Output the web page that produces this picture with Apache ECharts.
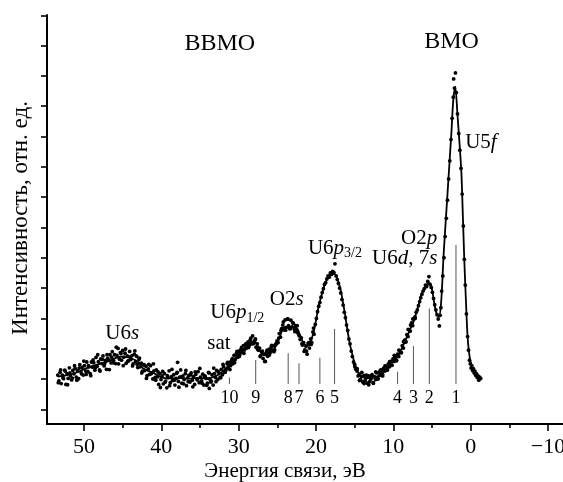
<!DOCTYPE html>
<html>
<head>
<meta charset="utf-8">
<script src="https://cdn.jsdelivr.net/npm/echarts@6/dist/echarts.min.js"></script>
<style>
  html, body { margin: 0; padding: 0; background: #fff; }
  #chart { width: 563px; height: 482px; }
</style>
</head>
<body>
<div id="chart"></div>
<script>
// Measured XPS valence-band spectrum, first pass: [binding energy, eV ; intensity, arb. units]
const spectrum = [
  [53.40,0.13],[53.25,-0.06],[53.10,0.22],[52.95,-0.15],[52.80,0.13],[52.65,0.01],[52.50,0.29],[52.35,-0.18],
  [52.20,0.18],[52.05,0.02],[51.90,0.37],[51.75,0.10],[51.60,-0.03],[51.45,0.28],[51.30,0.17],[51.15,0.35],
  [51.00,0.06],[50.85,0.27],[50.70,0.01],[50.55,0.47],[50.40,0.23],[50.25,0.38],[50.10,0.13],[49.95,0.44],
  [49.80,0.26],[49.65,0.56],[49.50,0.25],[49.35,0.40],[49.20,0.18],[49.05,0.56],[48.90,0.39],[48.75,0.54],
  [48.60,0.29],[48.45,0.71],[48.30,0.42],[48.15,0.57],[48.00,0.30],[47.85,0.66],[47.70,0.51],[47.55,0.76],
  [47.40,0.43],[47.25,0.61],[47.10,0.32],[46.95,0.68],[46.80,0.62],[46.65,0.80],[46.50,0.53],[46.35,0.90],
  [46.20,0.62],[46.05,0.80],[45.90,0.51],[45.75,0.78],[45.60,1.01],[45.45,0.66],[45.30,0.87],[45.15,0.62],
  [45.00,0.94],[44.85,0.72],[44.70,0.85],[44.55,0.52],[44.40,0.76],[44.25,0.60],[44.10,0.91],[43.95,0.64],
  [43.80,0.77],[43.65,0.50],[43.50,0.82],[43.35,0.57],[43.20,0.75],[43.05,0.38],[42.90,0.65],[42.75,0.40],
  [42.60,0.52],[42.45,0.26],[42.30,0.47],[42.15,0.28],[42.00,0.42],[41.85,0.11],[41.70,0.33],[41.55,0.15],
  [41.40,0.44],[41.25,0.20],[41.10,0.00],[40.95,0.27],[40.80,0.05],[40.65,0.30],[40.50,0.07],[40.35,-0.18],
  [40.20,0.18],[40.05,-0.02],[39.90,0.10],[39.75,-0.16],[39.60,0.18],[39.45,-0.07],[39.30,-0.29],[39.15,0.05],
  [39.00,0.27],[38.85,-0.12],[38.70,0.08],[38.55,-0.05],[38.40,0.14],[38.25,-0.20],[38.10,0.02],[37.95,0.22],
  [37.90,0.55],[37.80,-0.08],[37.65,0.06],[37.50,0.30],[37.35,-0.14],[37.20,0.10],[37.05,-0.02],[36.90,0.18],
  [36.75,-0.22],[36.60,0.04],[36.45,0.12],[36.30,-0.10],[36.15,0.20],[36.00,-0.04],[35.85,0.08],[35.70,-0.18],
  [35.55,0.15],[35.40,0.00],[35.25,0.24],[35.10,-0.12],[34.95,0.06],[34.80,-0.06],[34.65,0.16],[34.50,-0.20],
  [34.35,0.10],[34.20,0.02],[34.05,-0.14],[33.90,0.22],[33.80,-0.31],[33.75,0.00],[33.60,-0.10],[33.45,0.14],
  [33.30,-0.20],[33.15,0.18],[33.00,0.05],[32.85,0.28],[32.70,-0.02],[32.55,0.20],[32.40,0.06],[32.25,0.32],
  [32.10,0.14],[31.95,0.40],[31.80,0.22],[31.65,0.30],[31.50,0.50],[31.35,0.36],[31.20,0.55],[31.05,0.44],
  [30.90,0.62],[30.75,0.50],[30.60,0.78],[30.45,0.64],[30.30,0.84],[30.15,0.72],[30.00,0.92],[29.85,0.80],
  [29.70,0.98],[29.55,0.88],[29.40,1.10],[29.25,0.96],[29.10,1.14],[28.95,1.02],[28.80,1.22],[28.65,1.10],
  [28.50,1.30],[28.35,1.16],[28.20,1.42],[28.05,1.20],[27.90,1.28],[27.75,1.05],[27.60,1.16],[27.45,0.95],
  [27.30,1.02],[27.15,0.78],[27.00,0.90],[26.85,0.68],[26.70,0.82],[26.55,0.58],[26.40,0.88],[26.25,0.75],
  [26.10,0.98],[25.95,0.86],[25.80,1.05],[25.65,0.92],[25.50,1.10],[25.35,0.96],[25.20,1.14],[25.05,1.26],
  [24.90,1.20],[24.75,1.50],[24.60,1.38],[24.45,1.66],[24.30,1.78],[24.15,1.62],[24.00,1.95],[23.85,1.70],
  [23.70,1.98],[23.55,1.76],[23.40,1.66],[23.25,1.94],[23.10,1.72],[22.95,1.84],[22.80,1.64],[22.65,1.76],
  [22.50,1.60],[22.35,1.52],[22.20,1.44],[22.05,1.30],[21.90,1.36],[21.75,1.12],[21.60,1.20],[21.45,0.96],
  [21.30,1.08],[21.15,0.82],[21.00,1.18],[20.85,1.02],[20.70,1.32],[20.55,1.20],[20.40,1.55],[20.25,1.48],
  [20.10,1.80],[19.95,2.00],[19.80,2.22],[19.65,2.40],[19.50,2.52],[19.35,2.70],[19.20,2.85],[19.05,2.98],
  [18.90,3.12],[18.75,3.18],[18.60,3.30],[18.45,3.40],[18.30,3.36],[18.15,3.50],[18.00,3.45],[17.85,3.55],
  [17.70,3.52],[17.55,3.80],[17.40,3.40],[17.25,3.28],[17.10,3.15],[16.95,3.00],[16.80,2.84],[16.65,2.62],
  [16.50,2.44],[16.35,2.20],[16.20,2.02],[16.05,1.78],[15.90,1.60],[15.75,1.32],[15.60,1.16],[15.45,0.92],
  [15.30,0.74],[15.15,0.56],[15.00,0.48],[14.85,0.32],[14.70,0.26],[14.55,0.10],[14.40,0.16],[14.25,-0.02],
  [14.10,0.08],[13.95,-0.10],[13.80,0.12],[13.65,-0.05],[13.50,0.04],[13.35,-0.14],[13.20,0.10],[13.05,-0.08],
  [12.90,0.00],[12.75,0.14],[12.60,-0.12],[12.45,0.08],[12.30,-0.02],[12.15,0.20],[12.00,0.04],[11.85,0.22],
  [11.70,0.12],[11.55,0.30],[11.40,0.16],[11.25,0.36],[11.10,0.26],[10.95,0.42],[10.80,0.32],[10.65,0.50],
  [10.50,0.40],[10.35,0.58],[10.20,0.46],[10.05,0.66],[9.90,0.58],[9.75,0.72],[9.60,0.62],[9.45,0.82],
  [9.30,0.74],[9.15,0.92],[9.00,0.86],[8.85,1.10],[8.70,1.02],[8.55,1.28],[8.40,1.22],[8.25,1.46],
  [8.10,1.40],[7.95,1.62],[7.80,1.58],[7.65,1.85],[7.50,1.76],[7.35,1.98],[7.20,2.05],[7.05,2.20],
  [6.90,2.28],[6.75,2.42],[6.60,2.55],[6.45,2.68],[6.30,2.80],[6.15,2.90],[6.00,2.98],[5.85,3.10],
  [5.70,3.05],[5.55,3.22],[5.40,3.38],[5.25,3.12],[5.10,3.02],[4.95,2.86],[4.80,2.66],[4.65,2.45],
  [4.50,2.28],[4.35,2.12],[4.20,1.98],[4.05,1.75],[3.95,2.10],[3.85,2.35],[3.75,2.90],[3.60,3.40],
  [3.45,4.00],[3.30,4.70],[3.15,5.30],[3.00,5.90],[2.85,6.60],[2.70,7.20],[2.55,7.90],[2.40,8.60],
  [2.25,9.30],[2.20,9.90],[2.10,9.60],[1.97,10.10],[1.85,9.45],[1.70,8.75],[1.55,8.10],[1.40,7.55],
  [1.25,6.95],[1.10,6.10],[0.95,5.05],[0.82,3.95],[0.70,3.10],[0.55,2.15],[0.40,1.40],[0.28,0.95],
  [0.15,0.62],[0.05,0.50],[-0.05,0.36],[-0.15,0.44],[-0.25,0.28],[-0.35,0.34],[-0.45,0.20],[-0.55,0.26],
  [-0.65,0.12],[-0.75,0.18],[-0.85,0.05],[-0.95,0.10],[-1.05,-0.04],[-1.15,0.06],[-1.30,0.02]
];

// Second pass over the wide region and the 7–15 eV valley
const spectrumRepeat = [
  [53.33,-0.12],[53.03,0.30],[52.73,0.05],[52.43,0.26],[52.13,-0.19],[51.83,0.20],[51.53,0.03],[51.23,0.44],
  [50.93,-0.04],[50.63,0.36],[50.33,0.17],[50.03,0.59],[49.73,0.15],[49.43,0.44],[49.13,0.11],[48.83,0.63],
  [48.53,0.38],[48.23,0.80],[47.93,0.26],[47.63,0.65],[47.33,0.50],[47.03,0.80],[46.73,0.31],[46.43,0.72],
  [46.13,0.53],[45.83,1.05],[45.53,0.50],[45.23,0.84],[44.93,0.44],[44.63,0.99],[44.33,0.59],[44.03,0.73],
  [43.73,0.43],[43.43,0.93],[43.13,0.49],[42.83,0.69],[42.53,0.20],[42.23,0.47],[41.93,0.02],[41.63,0.48],
  [41.33,0.17],[41.03,0.50],[40.73,-0.04],[40.43,0.23],[40.13,-0.28],[39.83,0.25],[39.53,-0.11],[39.23,0.11],
  [38.93,-0.22],[38.63,0.32],[38.33,-0.04],[38.03,0.19],[37.73,-0.27],[37.43,0.07],[37.13,-0.16],[36.83,0.28],
  [36.53,-0.09],[36.23,0.14],[35.93,-0.26],[35.63,0.23],[35.33,-0.03],[35.03,0.35],[34.73,-0.14],[34.43,0.08],
  [34.13,-0.21],[33.83,0.20],[33.53,-0.07],[33.23,0.36],[32.93,-0.09],[32.63,0.24],[32.33,0.04],[32.03,0.48],
  [31.73,0.23],[31.43,0.55],[31.13,0.31],[30.83,0.67],[30.53,0.54],[30.23,0.91],[29.93,0.74],[29.63,1.04],
  [29.33,0.85],[29.03,1.17],[28.73,1.04],[28.43,1.35],[28.13,1.16],[27.83,1.32],[27.53,0.98],[27.23,0.74],
  [26.93,0.92],[26.63,0.58],[26.33,0.95],[26.03,0.79],[25.73,1.11],[25.43,0.90],[25.13,1.18],[24.83,1.35],
  [24.53,1.60],[24.23,1.88],[23.93,1.61],[23.63,1.98],[23.33,1.66],[23.03,1.86],[22.73,1.56],[22.43,1.76],
  [22.13,1.42],[21.83,1.16],[21.53,0.91],[21.23,0.92],[20.93,1.20],[20.63,1.14],[20.33,1.68],
  [14.98,0.40],[14.68,0.34],[14.38,-0.05],[14.08,0.22],[13.78,-0.15],[13.48,0.13],[13.18,-0.19],[12.88,0.09],
  [12.58,-0.14],[12.28,0.23],[11.98,0.00],[11.68,0.29],[11.38,0.10],[11.08,0.43],[10.78,0.29],[10.48,0.57],
  [10.18,0.45],[9.88,0.78],[9.58,0.60],[9.28,0.95],[8.98,0.88],[8.68,1.23],[8.38,1.23],[8.08,1.64],
  [7.78,1.78],[7.48,1.98],[7.18,2.00]
];

// Smoothed envelope through the measured points
const fitCurve = [
  [53.4,0.08],[52.3,0.12],[51.2,0.19],[50.2,0.30],[49.1,0.41],[48.0,0.50],[46.9,0.58],[46.0,0.68],
  [45.2,0.74],[44.5,0.72],[43.9,0.68],[43.0,0.57],[42.4,0.36],[41.6,0.26],[40.9,0.18],[40.2,0.08],
  [39.6,0.03],[38.5,0.02],[37.5,0.03],[36.5,0.01],[35.5,0.03],[34.5,0.02],[33.6,0.04],[32.7,0.13],
  [32.1,0.24],[31.4,0.42],[30.8,0.58],[30.2,0.76],[29.5,0.95],[28.9,1.10],[28.3,1.24],[27.9,1.22],
  [27.5,1.07],[27.1,0.86],[26.5,0.78],[25.9,0.94],[25.4,1.00],[25.0,1.18],[24.6,1.45],[24.2,1.70],
  [23.6,1.72],[23.0,1.72],[22.4,1.66],[22.0,1.38],[21.5,1.14],[20.9,1.10],[20.5,1.38],[20.1,1.80],
  [19.7,2.35],[19.3,2.75],[18.9,3.10],[18.4,3.38],[17.9,3.48],[17.5,3.45],[17.1,3.20],[16.8,2.92],
  [16.5,2.50],[16.2,2.06],[15.9,1.55],[15.55,1.07],[15.2,0.70],[14.9,0.42],[14.5,0.20],[14.1,0.08],
  [13.4,0.03],[12.6,0.04],[12.0,0.10],[11.3,0.24],[10.5,0.45],[9.6,0.70],[9.0,0.95],[8.4,1.30],
  [7.8,1.65],[7.4,1.88],[6.9,2.30],[6.4,2.75],[6.0,3.00],[5.6,3.14],[5.3,3.16],[5.0,2.95],
  [4.7,2.50],[4.4,2.15],[4.1,2.05],[3.8,2.60],[3.5,4.10],[3.0,6.10],[2.5,8.10],[2.25,9.20],
  [2.0,9.65],[1.7,8.70],[1.45,7.80],[1.2,6.80],[1.0,5.30],[0.82,3.90],[0.6,2.50],[0.4,1.40],
  [0.2,0.85],[0.0,0.55],[-0.3,0.33],[-0.6,0.20],[-0.9,0.12],[-1.2,0.07]
];

// Decomposition components: number, energy (eV), relative height
const componentNames  = ['1', '2', '3', '4', '5', '6', '7', '8', '9', '10'];
const componentEnergy = [1.9, 5.35, 7.4, 9.45, 17.6, 19.5, 22.2, 23.6, 27.8, 31.2];
const componentHeight = [4.42, 2.33, 1.09, 0.24, 1.65, 0.70, 0.52, 0.85, 0.63, 0.05];

// Axis ticks
const xMajorTicks = [50, 40, 30, 20, 10, 0, -10];
const xMinorTicks = [45, 35, 25, 15, 5, -5];
const yTicks = [-1, 0, 1, 2, 3, 4, 5, 6, 7, 8, 9, 10, 11, 12];

const SERIF = '"Liberation Serif", "Times New Roman", serif';
const STICK_BASE = -0.165;   // lower end of component sticks
const NUMBER_ROW = -0.63;    // level of the component numbers

// Peak assignments placed in data coordinates
const peakLabels = [
  { at: [32.44, 11.06], text: '{big|BBMO}' },
  { at: [2.47, 11.12],  text: '{big|BMO}' },
  { at: [45.06, 1.49],  text: '{r|U6}{i|s}' },
  { at: [30.18, 2.18],  text: '{r|U6}{i|p}{sub|1/2}' },
  { at: [32.56, 1.16],  text: '{r|sat}' },
  { at: [23.8, 2.61],   text: '{r|O2}{i|s}' },
  { at: [17.55, 4.32],  text: '{r|U6}{i|p}{sub|3/2}' },
  { at: [8.53, 3.96],   text: '{r|U6}{i|d}{r|, 7}{i|s}' },
  { at: [6.66, 4.62],   text: '{r|O2}{i|p}' },
  { at: [-1.33, 7.79],  text: '{r|U5}{i|f}' }
];

const chart = echarts.init(document.getElementById('chart'), null, { renderer: 'canvas' });

const xRange = { min: -11.94, max: 54.79 };

chart.setOption({
  animation: false,
  backgroundColor: '#fff',
  grid: { left: 47, top: 15, right: 0, bottom: 58, containLabel: false, outerBoundsMode: 'none' },
  xAxis: [
    {
      type: 'value', inverse: true, min: xRange.min, max: xRange.max,
      splitLine: { show: false },
      axisLine: { show: true, onZero: false, lineStyle: { color: '#000', width: 2 } },
      axisTick: { show: true, customValues: xMajorTicks, length: 7, lineStyle: { color: '#000', width: 1.6 } },
      axisLabel: {
        show: true, customValues: xMajorTicks, margin: 12, hideOverlap: false,
        color: '#000', fontFamily: SERIF, fontSize: 22,
        formatter: v => (v < 0 ? '\u2212' + Math.abs(v) : String(v))
      }
    },
    {
      type: 'value', inverse: true, min: xRange.min, max: xRange.max, position: 'bottom',
      splitLine: { show: false },
      axisLine: { show: false, onZero: false },
      axisTick: { show: true, customValues: xMinorTicks, length: 4, lineStyle: { color: '#000', width: 1.6 } },
      axisLabel: { show: false }
    }
  ],
  yAxis: {
    type: 'value', min: -1.485, max: 12.01,
    splitLine: { show: false },
    axisLine: { show: true, onZero: false, lineStyle: { color: '#000', width: 2 } },
    axisTick: { show: true, customValues: yTicks, length: 6, lineStyle: { color: '#000', width: 1.6 } },
    axisLabel: { show: false }
  },
  graphic: [
    {
      type: 'text', x: 285, y: 471,
      style: {
        text: 'Энергия связи, эВ', font: '21px ' + SERIF, fill: '#000',
        align: 'center', verticalAlign: 'middle'
      }
    },
    {
      type: 'text', x: 21, y: 218, rotation: Math.PI / 2,
      style: {
        text: 'Интенсивность, отн. ед.', font: '23px ' + SERIF, fill: '#000',
        align: 'center', verticalAlign: 'middle'
      }
    }
  ],
  series: [
    {
      name: 'envelope', type: 'line', data: fitCurve, smooth: 0.3,
      showSymbol: false, symbol: 'none',
      lineStyle: { color: '#000', width: 1.8 }, z: 3
    },
    {
      name: 'spectrum', type: 'scatter', data: spectrum.concat(spectrumRepeat),
      symbol: 'circle', symbolSize: 3.8,
      itemStyle: { color: '#000', opacity: 1 }, z: 4
    },
    {
      name: 'components', type: 'custom',
      data: componentEnergy.map((e, i) => [e, componentHeight[i]]),
      renderItem: function (params, api) {
        const e = api.value(0);
        const h = api.value(1);
        const p0 = api.coord([e, STICK_BASE]);
        const p1 = api.coord([e, h]);
        const pn = api.coord([e, NUMBER_ROW]);
        return {
          type: 'group',
          children: [
            {
              type: 'line',
              shape: { x1: p0[0], y1: p0[1], x2: p1[0], y2: p1[1] },
              style: { stroke: '#555', lineWidth: 1 }
            },
            {
              type: 'text',
              style: {
                text: componentNames[params.dataIndex], x: pn[0], y: pn[1],
                align: 'center', verticalAlign: 'middle',
                font: '18px ' + SERIF, fill: '#000'
              }
            }
          ]
        };
      },
      z: 2
    },
    {
      name: 'assignments', type: 'scatter', symbolSize: 0, silent: true,
      itemStyle: { opacity: 1 },
      data: peakLabels.map(p => ({ value: p.at, label: { formatter: p.text } })),
      label: {
        show: true, position: 'inside', color: '#000', fontFamily: SERIF, fontSize: 21,
        rich: {
          r:   { fontFamily: SERIF, fontSize: 21, color: '#000', lineHeight: 24 },
          i:   { fontFamily: SERIF, fontSize: 21, color: '#000', fontStyle: 'italic', lineHeight: 24 },
          sub: { fontFamily: SERIF, fontSize: 14, color: '#000', lineHeight: 12, verticalAlign: 'bottom' },
          big: { fontFamily: SERIF, fontSize: 24, color: '#000', lineHeight: 28 }
        }
      },
      z: 5
    }
  ]
});
</script>
</body>
</html>
